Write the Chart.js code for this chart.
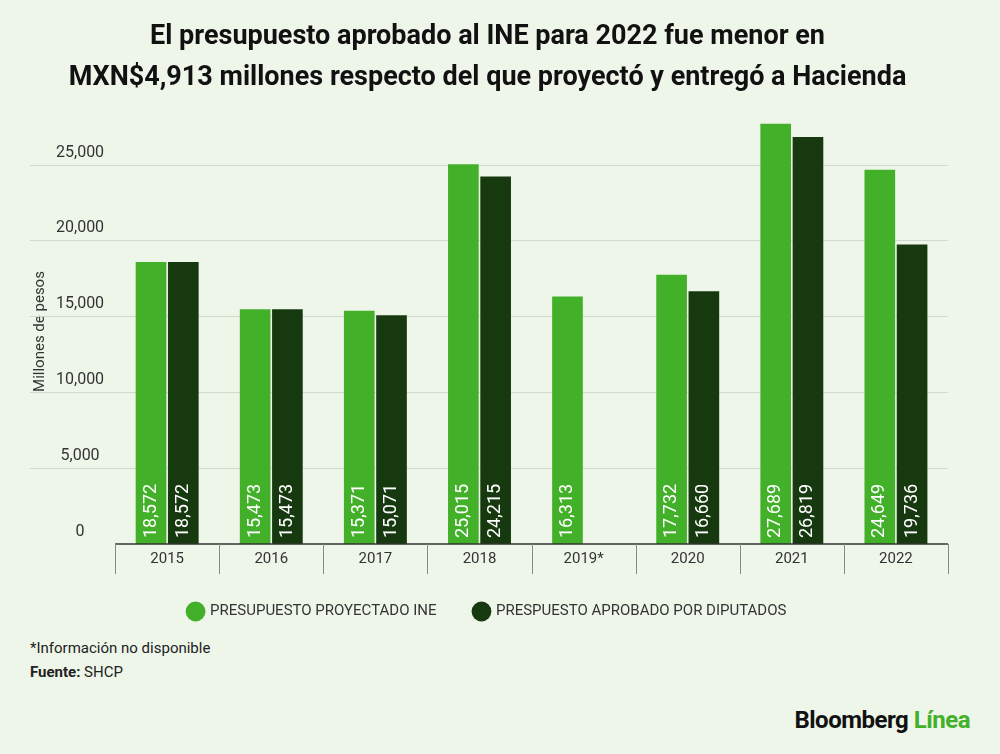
<!DOCTYPE html>
<html><head><meta charset="utf-8">
<script src="https://cdn.jsdelivr.net/npm/chart.js@4"></script>
<style>
body{margin:0;background:#eef6ea;font-family:Roboto,sans-serif}
#wrap{position:relative;width:1000px;height:754px}
#c{position:absolute;left:0;top:0}
.note{position:absolute;left:30px;font-size:15px;color:#222}
#logo{position:absolute;right:30px;top:706px;font-size:24px;font-weight:bold;color:#111;letter-spacing:-0.5px}
</style></head><body>
<div id="wrap">
<canvas id="c" width="1000" height="629"></canvas>
<div class="note" style="top:639px">*Información no disponible</div>
<div class="note" style="top:663px"><b>Fuente:</b> SHCP</div>
<div id="logo">Bloomberg <span style="color:#43b02a">Línea</span></div>
</div>
<script>
const years = ['2015','2016','2017','2018','2019*','2020','2021','2022'];
const proyectado = [18572, 15473, 15371, 25015, 16313, 17732, 27689, 24649];
const aprobado = [18572, 15473, 15071, 24215, null, 16660, 26819, 19736];
const yTicks = [0, 5000, 10000, 15000, 20000, 25000];

const extras = {
  id: 'extras',
  beforeDatasetsDraw(chart) {
    const c = chart.ctx, y = chart.scales.y, a = chart.chartArea;
    c.save();
    c.strokeStyle = '#cfdccb'; c.lineWidth = 1;
    yTicks.slice(1).forEach(v => {
      const py = Math.round(y.getPixelForValue(v)) + 0.5;
      c.beginPath(); c.moveTo(30, py); c.lineTo(a.right, py); c.stroke();
    });
    c.restore();
  },
  afterDatasetsDraw(chart) {
    const c = chart.ctx, a = chart.chartArea;
    c.save();
    c.strokeStyle = '#333'; c.lineWidth = 1.5;
    c.beginPath(); c.moveTo(a.left, a.bottom); c.lineTo(a.right, a.bottom); c.stroke();
    c.lineWidth = 1; c.strokeStyle = '#888';
    const w = (a.right - a.left) / years.length;
    for (let i = 0; i <= years.length; i++) {
      const px = Math.round(a.left + i * w) + 0.5;
      c.beginPath(); c.moveTo(px, a.bottom); c.lineTo(px, a.bottom + 30); c.stroke();
    }
    c.fillStyle = '#fff'; c.font = '18px Roboto'; c.textAlign = 'left'; c.textBaseline = 'middle';
    chart.data.datasets.forEach((ds, di) => {
      chart.getDatasetMeta(di).data.forEach((bar, i) => {
        const v = ds.data[i];
        if (v == null) return;
        c.save(); c.translate(bar.x, a.bottom - 6); c.rotate(-Math.PI / 2);
        c.fillText(v.toLocaleString('en-US'), 0, 0); c.restore();
      });
    });
    c.restore();
  }
};

new Chart(document.getElementById('c'), {
  type: 'bar',
  data: {
    labels: years,
    datasets: [
      {label: 'PRESUPUESTO PROYECTADO INE', data: proyectado, backgroundColor: '#43b02a'},
      {label: 'PRESPUESTO APROBADO POR DIPUTADOS', data: aprobado, backgroundColor: '#17390f'}
    ]
  },
  options: {
    responsive: false, animation: false,
    layout: {padding: {left: 27, right: 52, top: 0, bottom: 0}},
    datasets: {bar: {categoryPercentage: 0.62, barPercentage: 0.95}},
    plugins: {
      title: {display: true, text: ['El presupuesto aprobado al INE para 2022 fue menor en', 'MXN$4,913 millones respecto del que proyectó y entregó a Hacienda'],
        color: '#111', font: {family: 'Roboto', size: 27, weight: 'bold', lineHeight: 1.5}, padding: {top: 17, bottom: 21}},
      legend: {position: 'bottom', labels: {usePointStyle: true, pointStyle: 'circle', boxWidth: 14, boxHeight: 14, padding: 38,
        color: '#333', font: {family: 'Roboto', size: 15}}},
      tooltip: {enabled: false}
    },
    scales: {
      x: {grid: {display: false}, border: {display: false},
        ticks: {color: '#333', font: {family: 'Roboto', size: 15}, padding: -2}},
      y: {min: 0, max: 28000, border: {display: false}, grid: {display: false},
        afterBuildTicks: s => { s.ticks = yTicks.map(v => ({value: v})); },
        title: {display: true, text: 'Millones de pesos', color: '#333', font: {family: 'Roboto', size: 15}},
        ticks: {color: '#333', font: {family: 'Roboto', size: 16}, labelOffset: -12, crossAlign: 'center',
          callback: v => v.toLocaleString('en-US')}}
    }
  },
  plugins: [extras]
});
</script>
</body></html>
